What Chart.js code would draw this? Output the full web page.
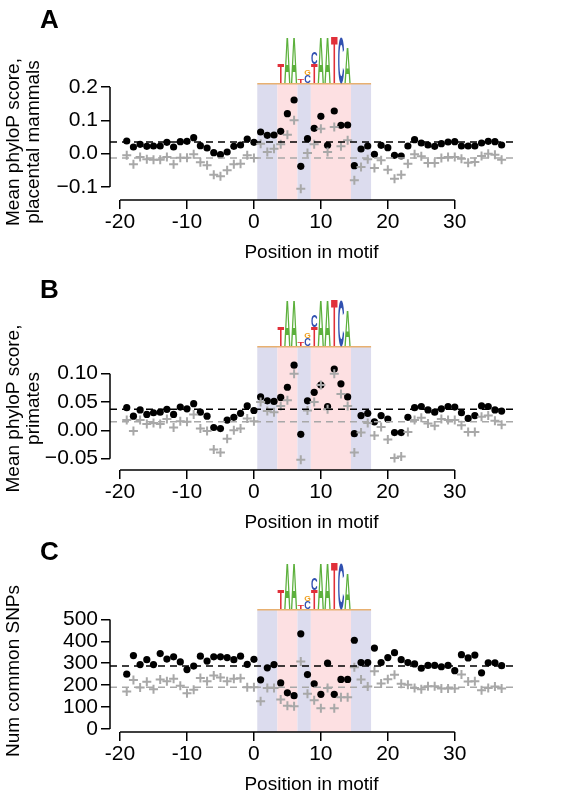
<!DOCTYPE html>
<html>
<head>
<meta charset="utf-8">
<script src="https://cdn.jsdelivr.net/npm/chart.js@4"></script>
<style>
  body { margin: 0; background: #fff; }
  .panel { position: absolute; left: 0; }
  .lab { position: absolute; left: 40px; font: bold 26px "Liberation Sans", Arial, sans-serif; }
</style>
</head>
<body>
<canvas id="cA" class="panel" style="top:0px" width="568" height="268"></canvas>
<canvas id="cB" class="panel" style="top:270px" width="568" height="268"></canvas>
<canvas id="cC" class="panel" style="top:540px" width="568" height="260"></canvas>
<div class="lab" style="top:4px">A</div>
<div class="lab" style="top:274px">B</div>
<div class="lab" style="top:536px">C</div>
<script>
const positions = [-19,-18,-17,-16,-15,-14,-13,-12,-11,-10,-9,-8,-7,-6,-5,-4,-3,-2,-1,0,
  1,2,3,4,5,6,7,8,9,10,11,12,13,14,15,16,17,18,19,20,21,22,23,24,25,26,27,28,29,30,
  31,32,33,34,35,36,37];

const mammalsMotif = [0.038,0.02,0.028,0.022,0.023,0.023,0.034,0.02,0.036,0.037,0.048,0.024,0.017,0.003,-0.003,0.005,0.022,0.026,0.044,0.034,
  0.065,0.055,0.056,0.067,0.12,0.161,-0.038,0.045,0.076,0.112,0.025,0.128,0.085,0.086,-0.036,0.014,0.023,-0.002,0.025,0.018,
  -0.005,-0.007,0.023,0.042,0.032,0.026,0.022,0.03,0.035,0.036,0.023,0.023,0.023,0.032,0.037,0.036,0.026];
const mammalsBackground = [-0.005,-0.032,-0.01,-0.017,-0.018,-0.018,-0.01,-0.032,-0.012,-0.012,-0.002,-0.026,-0.035,-0.063,-0.068,-0.05,-0.032,-0.03,-0.005,-0.013,
  0.03,0.005,0.015,0.028,0.057,0.1,-0.105,0.002,0.028,0.075,0.005,0.08,0.022,0.04,-0.08,-0.04,-0.017,-0.043,-0.02,-0.048,
  -0.075,-0.063,-0.03,-0.002,-0.008,-0.028,-0.028,-0.013,-0.01,-0.01,-0.015,-0.027,-0.025,-0.007,0.0,-0.003,-0.018];
const mammalsMeans = [0.035, -0.013];

const primatesMotif = [0.04,0.025,0.036,0.028,0.031,0.032,0.037,0.028,0.041,0.038,0.047,0.032,0.025,0.005,0.003,0.018,0.023,0.03,0.043,0.035,
  0.059,0.052,0.051,0.058,0.076,0.115,-0.007,0.052,0.067,0.08,0.042,0.108,0.082,0.059,-0.006,0.026,0.03,0.015,0.026,0.02,
  -0.004,-0.004,0.023,0.04,0.042,0.036,0.032,0.038,0.042,0.041,0.031,0.021,0.026,0.043,0.042,0.036,0.034];
const primatesBackground = [0.018,-0.001,0.018,0.011,0.013,0.011,0.02,0.005,0.016,0.015,0.028,0.003,-0.001,-0.034,-0.039,-0.015,0.0,0.003,0.021,0.016,
  0.05,0.034,0.032,0.043,0.053,0.1,-0.052,0.035,0.05,0.08,0.037,0.1,0.064,0.043,-0.039,-0.004,0.013,-0.009,0.006,-0.016,
  -0.049,-0.046,-0.003,0.018,0.022,0.012,0.008,0.02,0.018,0.018,0.009,-0.003,-0.003,0.024,0.026,0.017,0.01];
const primatesMeans = [0.037, 0.015];

const snpsMotif = [250,335,294,316,294,344,319,329,306,271,287,332,310,329,329,326,316,332,295,318,
  224,279,294,210,165,152,434,248,206,158,300,158,226,226,405,303,303,369,303,326,
  348,316,303,297,277,290,290,284,290,266,339,324,337,256,302,302,289];
const snpsBackground = [171,223,189,215,181,226,218,229,197,163,179,232,218,244,235,218,229,231,190,190,
  126,187,187,134,106,103,308,161,131,94,187,94,145,145,282,226,194,263,208,227,
  247,206,202,187,181,195,195,185,185,185,248,216,218,177,187,194,185];
const snpsMeans = [287, 190];

// motif blocks: [start, end, kind]
const shadeBlocks = [[0.5,3.5,'b'],[3.5,6.5,'p'],[6.5,8.5,'b'],[8.5,14.5,'p'],[14.5,17.5,'b']];
// sequence logo letters: [position, letter, relative height]
const logoLetters = [[4,'T',0.42],[5,'A',1],[6,'A',1],[7,'T',0.08],[8,'C',0.18],[8,'G',0.1],[9,'T',0.42],[9,'C',0.25],
  [10,'A',1],[11,'A',1],[12,'T',1.05],[13,'C',1],[14,'A',0.78]];
const letterColor = { A: '#5cb03c', T: '#e0303a', C: '#3050b0', G: '#f0a020' };

const FONT = '"Liberation Sans", Arial, sans-serif';
const XMIN = -21.5, XMAX = 38.7;

const decor = {
  id: 'decor',
  beforeDatasetsDraw(chart) {
    const { ctx, chartArea, scales } = chart;
    const x = scales.x;
    ctx.save();
    shadeBlocks.forEach(([a, b, k]) => {
      ctx.fillStyle = k === 'b' ? '#dcdcee' : '#fde0e2';
      ctx.fillRect(x.getPixelForValue(a), chartArea.top, x.getPixelForValue(b) - x.getPixelForValue(a), chartArea.bottom - chartArea.top);
    });
    ctx.fillStyle = '#e8b070';
    ctx.fillRect(x.getPixelForValue(0.5), chartArea.top - 1, x.getPixelForValue(17.5) - x.getPixelForValue(0.5), 1.5);
    ctx.restore();
  },
  afterDraw(chart) {
    const { ctx, chartArea, scales } = chart;
    const x = scales.x;
    const o = chart.options.plugins.decor;
    ctx.save();
    // sequence logo
    const stack = {};
    logoLetters.forEach(([p, l, h]) => {
      const base = stack[p] || 0;
      const hh = 46 * h;
      ctx.save();
      ctx.fillStyle = letterColor[l];
      ctx.font = 'bold 10px ' + FONT;
      ctx.textBaseline = 'alphabetic';
      const w = ctx.measureText(l).width;
      ctx.translate(x.getPixelForValue(p) - 3.3, chartArea.top - 1 - base);
      ctx.scale(6.6 / w, hh / 7.2);
      ctx.fillText(l, 0, 0);
      ctx.restore();
      stack[p] = base + hh;
    });
    ctx.strokeStyle = '#000';
    ctx.lineWidth = 1.5;
    ctx.beginPath();
    ctx.moveTo(chartArea.left, scales.y.getPixelForValue(o.y0));
    ctx.lineTo(chartArea.left, scales.y.getPixelForValue(o.y1));
    ctx.moveTo(x.getPixelForValue(-20), chartArea.bottom);
    ctx.lineTo(x.getPixelForValue(30), chartArea.bottom);
    ctx.stroke();
    ctx.restore();
  }
};

function makePanel(id, motif, background, means, yOpts, yTitle, padTop) {
  const motifPts = positions.map((p, i) => ({ x: p, y: motif[i] }));
  const bgPts = positions.map((p, i) => ({ x: p, y: background[i] }));
  return new Chart(document.getElementById(id), {
    type: 'scatter',
    data: {
      datasets: [
        { type: 'line', data: [{ x: XMIN, y: means[1] }, { x: XMAX, y: means[1] }], borderColor: '#a8a8a8', borderDash: [7, 5], borderWidth: 1.5, pointRadius: 0 },
        { type: 'line', data: [{ x: XMIN, y: means[0] }, { x: XMAX, y: means[0] }], borderColor: '#000', borderDash: [7, 5], borderWidth: 1.5, pointRadius: 0 },
        { data: bgPts, pointStyle: 'cross', pointRadius: 4.5, borderWidth: 2, borderColor: '#a8a8a8', backgroundColor: '#a8a8a8' },
        { data: motifPts, pointStyle: 'circle', pointRadius: 3.6, borderWidth: 0, backgroundColor: '#000' }
      ]
    },
    options: {
      responsive: false,
      animation: false,
      layout: { padding: { top: padTop, right: 55, left: 0, bottom: 0 } },
      plugins: { legend: { display: false }, tooltip: { enabled: false }, decor: { y0: yOpts.ticks[0], y1: yOpts.ticks[yOpts.ticks.length - 1] } },
      scales: {
        x: {
          type: 'linear', min: XMIN, max: XMAX,
          afterBuildTicks(s) { s.ticks = [-20, -10, 0, 10, 20, 30].map(v => ({ value: v })); },
          afterFit(s) { s.height = 68; },
          grid: { drawOnChartArea: false, tickLength: 9, color: '#000', lineWidth: 1.5 },
          border: { display: false },
          ticks: { color: '#000', font: { family: FONT, size: 21 }, padding: 1, autoSkip: false, maxRotation: 0 },
          title: { display: true, text: 'Position in motif', color: '#000', font: { family: FONT, size: 19 }, padding: { top: 4 } }
        },
        y: {
          min: yOpts.min, max: yOpts.max,
          afterBuildTicks(s) { s.ticks = yOpts.ticks.map(v => ({ value: v })); },
          afterFit(s) { s.width = 110; },
          grid: { drawOnChartArea: false, tickLength: 9, color: '#000', lineWidth: 1.5 },
          border: { display: false },
          ticks: { color: '#000', font: { family: FONT, size: 21, lineHeight: 1 }, padding: 3, autoSkip: false, callback: yOpts.fmt },
          title: { display: true, text: yTitle, color: '#000', font: { family: FONT, size: 19, lineHeight: 1.05 }, padding: { bottom: 0 } }
        }
      }
    },
    plugins: [decor]
  });
}

makePanel('cA', mammalsMotif, mammalsBackground, mammalsMeans,
  { min: -0.139, max: 0.209, ticks: [-0.1, 0, 0.1, 0.2], fmt: v => v < 0 ? '\u2212' + Math.abs(v).toFixed(1) : v.toFixed(1) },
  ['Mean phyloP score,', 'placental mammals'], 84);
makePanel('cB', primatesMotif, primatesBackground, primatesMeans,
  { min: -0.07, max: 0.147, ticks: [-0.05, 0, 0.05, 0.1], fmt: v => v < 0 ? '\u2212' + Math.abs(v).toFixed(2) : v.toFixed(2) },
  ['Mean phyloP score,', 'primates'], 77);
makePanel('cC', snpsMotif, snpsBackground, snpsMeans,
  { min: -14, max: 543, ticks: [0, 100, 200, 300, 400, 500], fmt: v => String(v) },
  'Num common SNPs', 70);
</script>
</body>
</html>
